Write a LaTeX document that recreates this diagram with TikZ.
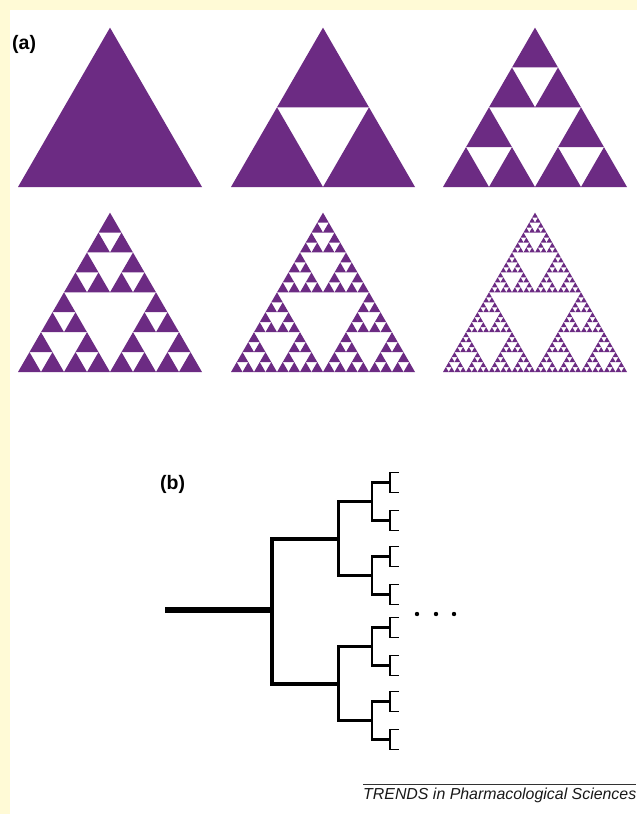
\documentclass[tikz,border=0pt]{standalone}
\usepackage{fontspec}
\setmainfont{Liberation Sans}
\definecolor{fractal}{RGB}{108,43,131}
\definecolor{pagetint}{RGB}{255,250,214}

% Sierpinski gasket: #1 depth, #2 left x, #3 base y, #4 side length
\newcommand\drawgasket[4]{%
  \ifnum#1=0
    \fill[fractal] (#2,#3) -- ++(#4,0) -- ++(-0.5*#4,-0.8660254*#4) -- cycle;
  \else
    \begingroup
      \pgfmathsetmacro\gHalf{0.5*#4}%
      \pgfmathsetmacro\gMidX{#2+0.5*#4}%
      \pgfmathsetmacro\gQuartX{#2+0.25*#4}%
      \pgfmathsetmacro\gMidY{#3-0.4330127*#4}%
      \edef\gNext{%
        \noexpand\drawgasket{\the\numexpr#1-1\relax}{#2}{#3}{\gHalf}%
        \noexpand\drawgasket{\the\numexpr#1-1\relax}{\gMidX}{#3}{\gHalf}%
        \noexpand\drawgasket{\the\numexpr#1-1\relax}{\gQuartX}{\gMidY}{\gHalf}}%
      \gNext
    \endgroup
  \fi}

% One level of the binary tree: #1 child level, #2 number of parents,
% #3 horizontal step, #4 half spread, #5 line width
\newcommand\treelevel[5]{%
  \foreach \p in {1,...,#2}{%
    \pgfmathtruncatemacro\q{#1-1}%
    \pgfmathtruncatemacro\a{2*\p-1}%
    \pgfmathtruncatemacro\b{2*\p}%
    \coordinate (n#1-\a) at ([shift={(#3,-#4)}]n\q-\p);
    \coordinate (n#1-\b) at ([shift={(#3,#4)}]n\q-\p);
    \draw[limb, line width=#5] (n#1-\a) -| (n\q-\p) |- (n#1-\b);
  }}

\tikzset{
  limb/.style={black, line join=miter, line cap=butt},
  panel label/.style={font=\bfseries\fontsize{19.5}{22}\selectfont, inner sep=0pt, anchor=base west},
}

\begin{document}
\begin{tikzpicture}[x=1pt, y=-1pt]
  \useasboundingbox (0,0) rectangle (637,814);
  \fill[white] (0,0) rectangle (637,814);
  \fill[pagetint] (0,0) rectangle (637,10);
  \fill[pagetint] (0,0) rectangle (10,814);

  % (a) successive stages of the gasket
  \node[panel label] (lab-a) at (12,49) {(a)};
  \drawgasket{0}{18}{187}{184}
  \drawgasket{1}{231}{187}{184}
  \drawgasket{2}{443}{187}{184}
  \drawgasket{3}{18}{372}{184}
  \drawgasket{4}{231}{372}{184}
  \drawgasket{5}{443}{372}{184}

  % (b) branching tree
  \node[panel label] (lab-b) at (160,489) {(b)};
  \coordinate (root) at (165,610);
  \coordinate (n0-1) at (272,611);
  \draw[limb, line width=5.5] (root) -- (272,610);
  \treelevel{1}{1}{66}{72.5}{4}
  \treelevel{2}{2}{34}{37}{3}
  \treelevel{3}{4}{18}{19}{2.2}
  \treelevel{4}{8}{9}{9.8}{1.3}

  \coordinate (dot1) at (417,614);
  \coordinate (dot2) at (436,614);
  \coordinate (dot3) at (454,614);
  \foreach \d in {dot1,dot2,dot3} \fill[black] (\d) circle (2.2);

  % journal credit line
  \coordinate (rule-l) at (363,784);
  \coordinate (rule-r) at (636,784);
  \draw[black!80, line width=0.9] (rule-l) -- (rule-r);
  \node[font=\itshape\fontsize{15.9}{18}\selectfont, inner sep=0pt, anchor=base west, text=black!90] (credit) at (363,799) {TRENDS in Pharmacological Sciences};
\end{tikzpicture}
\end{document}
